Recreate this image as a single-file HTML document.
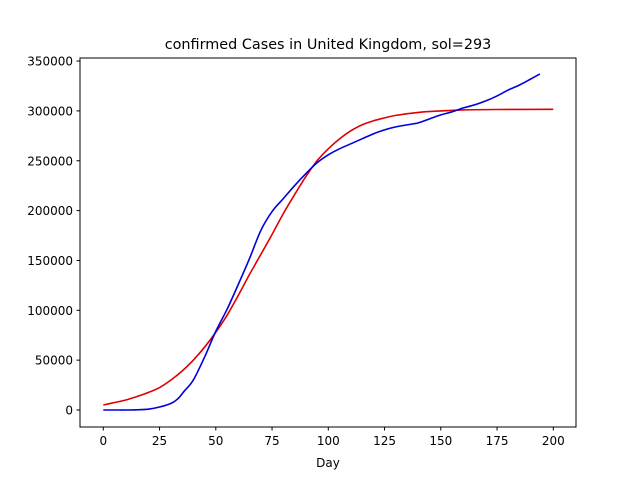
<!DOCTYPE html>
<html><head><meta charset="utf-8"><style>
body{margin:0;background:#fff;}
svg{display:block;font-family:"DejaVu Sans","Liberation Sans",sans-serif;}
</style></head><body>
<svg id="chart" width="640" height="480">
<rect width="640" height="480" fill="#fff"/>
<text x="328" y="49" font-size="14.4" text-anchor="middle">confirmed Cases in United Kingdom, sol=293</text>
<g id="ticks"></g>
<g id="lines"></g>
<rect x="80" y="58" width="496" height="369" fill="none" stroke="#000" stroke-width="1"/>
<text x="328" y="467" font-size="12" text-anchor="middle">Day</text>
</svg>
<script>
const xTicks=[0,25,50,75,100,125,150,175,200];
const yTicks=[0,50000,100000,150000,200000,250000,300000,350000];
const fitDays=[0,5,10,15,20,25,30,35,40,45,50,55,60,65,70,75,80,85,90,95,100,105,110,115,120,125,130,140,150,160,175,200];
const fitValues=[5000,7500,10000,13500,17500,22500,30000,39000,50000,63000,78000,95000,115000,136000,156000,176000,197000,216000,234000,250000,262000,272000,280000,286000,290000,293000,295500,298500,300000,301000,301400,301600];
const caseDays=[0,5,10,15,20,25,30,33,36,40,45,50,55,60,65,70,75,80,85,90,95,100,105,110,115,120,125,130,135,140,145,150,155,160,165,170,175,180,185,190,194];
const caseValues=[0,0,0,200,800,3000,6500,11000,19000,30000,53000,79000,101000,126000,152000,180000,199000,212000,225000,237000,248000,256000,262000,267000,272000,277000,281000,284000,286000,288000,292000,296000,299000,303000,306000,310000,315000,321000,326000,332000,337000];
const NS='http://www.w3.org/2000/svg';
const x=d=>103.3+d*2.25;
const y=v=>410-v*0.000997;
const tg=document.getElementById('ticks');
function mk(tag,attrs){const e=document.createElementNS(NS,tag);for(const k in attrs)e.setAttribute(k,attrs[k]);return e;}
function smooth(pts){
  let d='M'+pts[0][0]+','+pts[0][1];
  for(let i=0;i<pts.length-1;i++){
    const p0=pts[i-1]||pts[i],p1=pts[i],p2=pts[i+1],p3=pts[i+2]||p2;
    const c1=[p1[0]+(p2[0]-p0[0])/6,p1[1]+(p2[1]-p0[1])/6];
    const c2=[p2[0]-(p3[0]-p1[0])/6,p2[1]-(p3[1]-p1[1])/6];
    d+=' C'+c1[0]+','+c1[1]+' '+c2[0]+','+c2[1]+' '+p2[0]+','+p2[1];
  }
  return d;
}
xTicks.forEach(t=>{
  const l=mk('line',{x1:x(t),x2:x(t),y1:427,y2:430.5,stroke:'#000'});
  
  
  tg.appendChild(l);
  const tx=mk('text',{x:x(t),y:445,'font-size':12,'text-anchor':'middle'});
  
  
  tx.textContent=t;tg.appendChild(tx);
});
yTicks.forEach(t=>{
  const l=mk('line',{x1:76.5,x2:80,y1:y(t),y2:y(t),stroke:'#000'});
  
  
  tg.appendChild(l);
  const tx=mk('text',{x:73,y:y(t)+4.5,'font-size':12,'text-anchor':'end'});
  
  
  tx.textContent=t;tg.appendChild(tx);
});
const lg=document.getElementById('lines');
const fit=mk('path',{d:smooth(fitDays.map((d,i)=>[x(d),y(fitValues[i])])),fill:'none',stroke:'#e00000','stroke-width':1.6});


lg.appendChild(fit);
const cs=mk('path',{d:smooth(caseDays.map((d,i)=>[x(d),y(caseValues[i])])),fill:'none',stroke:'#0000dd','stroke-width':1.6});


lg.appendChild(cs);
</script>
</body></html>
